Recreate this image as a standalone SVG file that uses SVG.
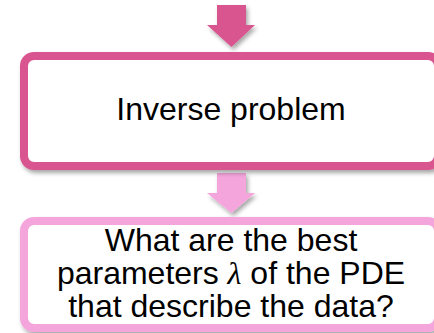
<svg xmlns="http://www.w3.org/2000/svg" width="434" height="333" viewBox="0 0 434 333">
<style>
.t{font-family:"Liberation Sans",Arial,sans-serif;font-size:32px;fill:#000;text-anchor:middle}
.lam{font-family:"Liberation Serif","DejaVu Serif",serif;font-style:italic}
.dark{fill:#D9548F}
.light{fill:#F4A5DB}
</style>
<defs>
<filter id="sh" x="-10%" y="-10%" width="130%" height="140%">
<feDropShadow dx="2" dy="3" stdDeviation="2" flood-color="#000" flood-opacity="0.35"/>
</filter>
</defs>
<rect width="434" height="333" fill="#fff"/>
<g id="connectors">
<polygon class="dark" filter="url(#sh)" points="217,5 246,5 246,25 255,25 231.5,47 207,25 217,25"/>
<polygon class="light" filter="url(#sh)" points="217,173 246,173 246,193 255,193 231.5,213 207,193 217,193"/>
</g>
<g id="inverse-problem">
<rect x="24" y="56" width="414" height="110" rx="10" fill="#fff" stroke="#D9548F" stroke-width="8" filter="url(#sh)"/>
<text class="t" x="231" y="120">Inverse problem</text>
</g>
<g id="question">
<rect x="24" y="221" width="414" height="107" rx="10" fill="#fff" stroke="#F4A5DB" stroke-width="8" filter="url(#sh)"/>
<text class="t" x="231" y="251">What are the best</text>
<text class="t" x="231" y="284">parameters <tspan class="lam">λ</tspan> of the PDE</text>
<text class="t" x="231" y="317">that describe the data?</text>
</g>
</svg>
